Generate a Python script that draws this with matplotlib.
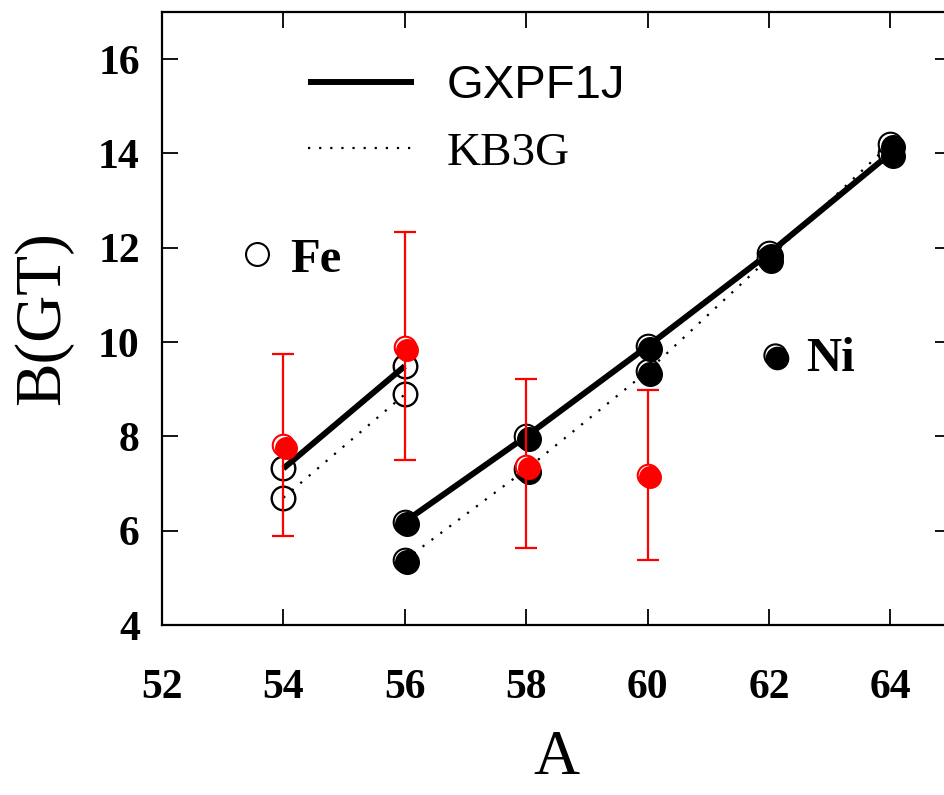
import matplotlib
matplotlib.use("Agg")
import matplotlib.pyplot as plt
import matplotlib.transforms as mtransforms
from matplotlib.lines import Line2D
import numpy as np

# --- data ---
fe_A = [54, 56]
fe_gx = [7.32, 9.49]      # GXPF1J (open circles, upper)
fe_kb = [6.70, 8.89]      # KB3G (open circles, lower)
fe_exp = [7.81, 9.89]
fe_lo = [5.88, 7.49]
fe_hi = [9.75, 12.34]

ni_A = [56, 58, 60, 62, 64]
ni_gx = [6.19, 8.00, 9.91, 11.88, 14.00]
ni_kb = [5.38, 7.30, 9.38, 11.78, 14.20]
ni_expA = [58, 60]
ni_exp = [7.38, 7.19]
ni_lo = [5.64, 5.38]
ni_hi = [9.21, 8.98]

xticks = [52, 54, 56, 58, 60, 62, 64]
yticks = [4, 6, 8, 10, 12, 14, 16]

serif = ["Liberation Serif", "DejaVu Serif"]
sans = ["Liberation Sans", "DejaVu Sans"]

fig = plt.figure(figsize=(9.44, 7.95), dpi=100)
ax = fig.add_axes([162/944, 170/795, 789/944, 613/795])
ax.set_xlim(52, 65)
ax.set_ylim(4, 17)

# theory lines
ax.plot(fe_A, fe_gx, color="black", lw=4.3, solid_capstyle="butt", zorder=2)
ax.plot(ni_A, ni_gx, color="black", lw=4.3, solid_capstyle="butt", zorder=2)
ax.plot(fe_A, fe_kb, color="black", lw=1.6, ls=(0, (1, 4)), zorder=2)
ax.plot(ni_A, ni_kb, color="black", lw=1.6, ls=(0, (1, 4)), zorder=2)

# shifted copy for the "shadow" look of filled markers
sh = mtransforms.offset_copy(ax.transData, fig=fig, x=2.5, y=-2.5, units="dots")

def filled(x, y, col, ms, z):
    ax.plot(x, y, "o", ms=ms, mfc="white", mec=col, mew=1.5, ls="none", zorder=z)
    ax.plot(x, y, "o", ms=ms, mfc=col, mec=col, mew=1, ls="none", zorder=z + 0.1,
            transform=sh)

# Fe open circles
ax.plot(fe_A + fe_A, fe_gx + fe_kb, "o", ms=17, mfc="none", mec="black",
        mew=1.7, ls="none", zorder=3)
# Ni filled circles
filled(ni_A + ni_A, ni_gx + ni_kb, "black", 17, 3)

# experimental points with error bars
exA = fe_A + ni_expA
exV = fe_exp + ni_exp
exLo = np.array(exV) - np.array(fe_lo + ni_lo)
exHi = np.array(fe_hi + ni_hi) - np.array(exV)
ax.errorbar(exA, exV, yerr=[exLo, exHi], fmt="none", ecolor="red", elinewidth=1.6,
            capsize=8, capthick=1.6, zorder=4)
filled(exA, exV, "red", 15.5, 5)

# Fe / Ni keys
ax.plot([53.57], [11.87], "o", ms=16.5, mfc="none", mec="black", mew=1.5, zorder=3)
ax.text(54.12, 11.75, "Fe", fontsize=35, fontweight="bold", family=serif,
        va="center", ha="left")
filled([62.1], [9.72], "black", 16, 3)
ax.text(62.62, 9.64, "Ni", fontsize=35, fontweight="bold", family=serif,
        va="center", ha="left")

# legend
h1 = Line2D([], [], color="black", lw=4.3, solid_capstyle="butt")
h2 = Line2D([], [], color="black", lw=1.6, ls=(0, (1, 4)))
leg = ax.legend([h1, h2], ["GXPF1J", "KB3G"], loc="upper left",
                bbox_to_anchor=(0.185, 0.915), frameon=False, fontsize=34,
                handlelength=2.25, handletextpad=0.68, labelspacing=0.5,
                borderpad=0, borderaxespad=0)
t1, t2 = leg.get_texts()
t1.set_family(sans)
t2.set_family(serif)

# axes styling
ax.set_xticks(xticks)
ax.set_yticks(yticks)
ax.set_xticklabels([str(v) for v in xticks], fontsize=30, fontweight="bold", family=serif)
ax.set_yticklabels([str(v) for v in yticks], fontsize=30, fontweight="bold", family=serif)
ax.tick_params(direction="in", length=11.5, width=1.3, top=True, right=True)
ax.tick_params(axis="x", pad=32)
ax.tick_params(axis="y", pad=16)
for s in ax.spines.values():
    s.set_linewidth(1.6)

ax.set_xlabel("A", fontsize=46, family=serif, labelpad=16)
ax.set_ylabel("B(GT)", fontsize=47, family=serif, labelpad=18)

fig.savefig("out.png", dpi=100)
